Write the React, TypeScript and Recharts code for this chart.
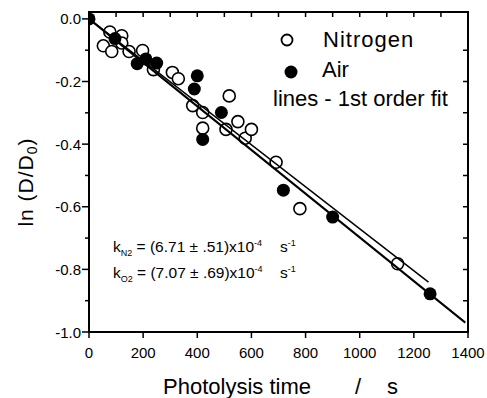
import { ScatterChart, Scatter, XAxis, YAxis } from "recharts";

// Nitrogen (open circles): photolysis time / s and ln(D/D0)
const n2Time = [77, 121, 53, 84, 121, 148, 198, 238, 308, 330, 383, 420, 420, 518, 506, 550, 577, 600, 691, 779, 1140];
const n2Value = [-0.042, -0.054, -0.086, -0.104, -0.077, -0.104, -0.101, -0.162, -0.171, -0.191, -0.277, -0.299, -0.349, -0.246, -0.353, -0.328, -0.381, -0.353, -0.458, -0.606, -0.782];

// Air (filled circles)
const airTime = [0, 96, 178, 210, 250, 400, 389, 420, 489, 718, 900, 1260];
const airValue = [0, -0.063, -0.143, -0.128, -0.141, -0.182, -0.224, -0.385, -0.299, -0.547, -0.633, -0.878];

// first order fit lines (end points)
const n2FitTime = [0, 1254];
const n2FitValue = [0, -0.841];
const airFitTime = [0, 1390];
const airFitValue = [0, -0.97];

const xTicks = [0, 100, 200, 300, 400, 500, 600, 700, 800, 900, 1000, 1100, 1200, 1300, 1400];
const yTicks = [0, -0.1, -0.2, -0.3, -0.4, -0.5, -0.6, -0.7, -0.8, -0.9, -1.0];

const X_MIN = 0;
const X_MAX = 1400;
const Y_MIN = -1;
const Y_MAX = 0.022;

const W = 487;
const H = 398;
// plot box in pixels (drives the chart margins and the frame)
const PLOT = { left: 89, top: 12, right: 468, bottom: 332 };

const FONT = '"Liberation Sans", Arial, sans-serif';

const toPoints = (ts: number[], vs: number[]) => ts.map((t, i) => ({ t, v: vs[i] }));

// frame helpers for the mirrored (top / right) tick marks
const frameX = (t: number) => PLOT.left + ((t - X_MIN) / (X_MAX - X_MIN)) * (PLOT.right - PLOT.left);
const frameY = (v: number) => PLOT.top + ((Y_MAX - v) / (Y_MAX - Y_MIN)) * (PLOT.bottom - PLOT.top);

const topTickPath = xTicks
  .slice(1, -1)
  .map((t) => `M${frameX(t)},${PLOT.top} v5`)
  .join(" ");
const rightTickPath = yTicks
  .slice(1, -1)
  .map((v) => `M${PLOT.right},${frameY(v)} h-5`)
  .join(" ");

const BottomTick = (p: any) => {
  const major = p.payload.value % 200 === 0;
  return (
    <g>
      <line x1={p.x} x2={p.x} y1={p.y} y2={p.y + (major ? 6 : 3)} stroke="#000" strokeWidth={1.5} />
      {major && (
        <text x={p.x} y={p.y + 26} textAnchor="middle" fontSize={15} fontFamily={FONT} fill="#000">
          {p.payload.value}
        </text>
      )}
    </g>
  );
};

const LeftTick = (p: any) => {
  const major = Math.round(p.payload.value * 10) % 2 === 0;
  return (
    <g>
      <line x1={p.x - (major ? 7 : 4)} x2={p.x} y1={p.y} y2={p.y} stroke="#000" strokeWidth={1.5} />
      {major && (
        <text x={p.x - 8} y={p.y + 5.5} textAnchor="end" fontSize={15} fontFamily={FONT} fill="#000">
          {Number(p.payload.value).toFixed(1)}
        </text>
      )}
    </g>
  );
};

const OpenDot = (p: any) => (
  <circle cx={p.cx} cy={p.cy} r={6} fill="#fff" stroke="#000" strokeWidth={1.6} />
);
const FilledDot = (p: any) => <circle cx={p.cx} cy={p.cy} r={6.5} fill="#000" />;
const NoDot = () => <g />;

export default function App() {
  return (
    <div style={{ position: "absolute", left: 0, top: 0, width: W, height: H, background: "#fff" }}>
      <ScatterChart
        width={W}
        height={H}
        margin={{ top: PLOT.top, right: W - PLOT.right, bottom: 0, left: 0 }}
      >
        <XAxis
          dataKey="t"
          type="number"
          domain={[X_MIN, X_MAX]}
          ticks={xTicks}
          allowDataOverflow
          height={H - PLOT.bottom}
          tickSize={0}
          tickMargin={0}
          tickLine={false}
          tick={BottomTick}
          axisLine={{ stroke: "#000", strokeWidth: 2 }}
        />
        <YAxis
          dataKey="v"
          type="number"
          domain={[Y_MIN, Y_MAX]}
          ticks={yTicks}
          allowDataOverflow
          width={PLOT.left}
          tickSize={0}
          tickMargin={0}
          tickLine={false}
          tick={LeftTick}
          axisLine={{ stroke: "#000", strokeWidth: 2 }}
        />
        <Scatter data={toPoints(n2Time, n2Value)} shape={OpenDot} isAnimationActive={false} />
        <Scatter data={toPoints(airTime, airValue)} shape={FilledDot} isAnimationActive={false} />
        <Scatter
          data={toPoints(n2FitTime, n2FitValue)}
          shape={NoDot}
          line={{ stroke: "#000", strokeWidth: 1.5 }}
          isAnimationActive={false}
        />
        <Scatter
          data={toPoints(airFitTime, airFitValue)}
          shape={NoDot}
          line={{ stroke: "#000", strokeWidth: 2 }}
          isAnimationActive={false}
        />
      </ScatterChart>
      <svg
        width={W}
        height={H}
        style={{ position: "absolute", left: 0, top: 0, pointerEvents: "none" }}
        fontFamily={FONT}
      >
        {/* frame with inward ticks on top / right */}
        <rect
          x={PLOT.left}
          y={PLOT.top}
          width={PLOT.right - PLOT.left}
          height={PLOT.bottom - PLOT.top}
          fill="none"
          stroke="#000"
          strokeWidth={2}
        />
        <path d={topTickPath} stroke="#000" strokeWidth={1.5} fill="none" />
        <path d={rightTickPath} stroke="#000" strokeWidth={1.5} fill="none" />

        {/* legend */}
        <circle cx={287} cy={40} r={5.5} fill="#fff" stroke="#000" strokeWidth={1.8} />
        <text x={323} y={47} fontSize={22} letterSpacing={1}>Nitrogen</text>
        <circle cx={291} cy={72} r={6.5} fill="#000" />
        <text x={322} y={77} fontSize={22}>Air</text>
        <text x={273} y={106} fontSize={22}>lines - 1st order fit</text>

        {/* rate constants */}
        <text x={113} y={251.5} fontSize={15.5}>
          k<tspan fontSize={9} dy={4}>N2</tspan>
          <tspan dy={-4}> = (6.71 ± .51)x10</tspan>
          <tspan fontSize={9} dy={-6}>-4</tspan>
          <tspan x={280} dy={6}>s</tspan>
          <tspan fontSize={9} dy={-6}>-1</tspan>
        </text>
        <text x={113} y={277.5} fontSize={15.5}>
          k<tspan fontSize={9} dy={4}>O2</tspan>
          <tspan dy={-4}> = (7.07 ± .69)x10</tspan>
          <tspan fontSize={9} dy={-6}>-4</tspan>
          <tspan x={280} dy={6}>s</tspan>
          <tspan fontSize={9} dy={-6}>-1</tspan>
        </text>

        {/* axis titles */}
        <text transform="translate(33,182) rotate(-90)" textAnchor="middle" fontSize={21} letterSpacing={1}>
          ln (D/D<tspan fontSize={14} dy={4}>0</tspan>
          <tspan dy={-4}>)</tspan>
        </text>
        <text x={163} y={394} fontSize={22}>Photolysis time</text>
        <text x={355} y={394} fontSize={22}>/</text>
        <text x={387} y={394} fontSize={22}>s</text>
      </svg>
    </div>
  );
}
